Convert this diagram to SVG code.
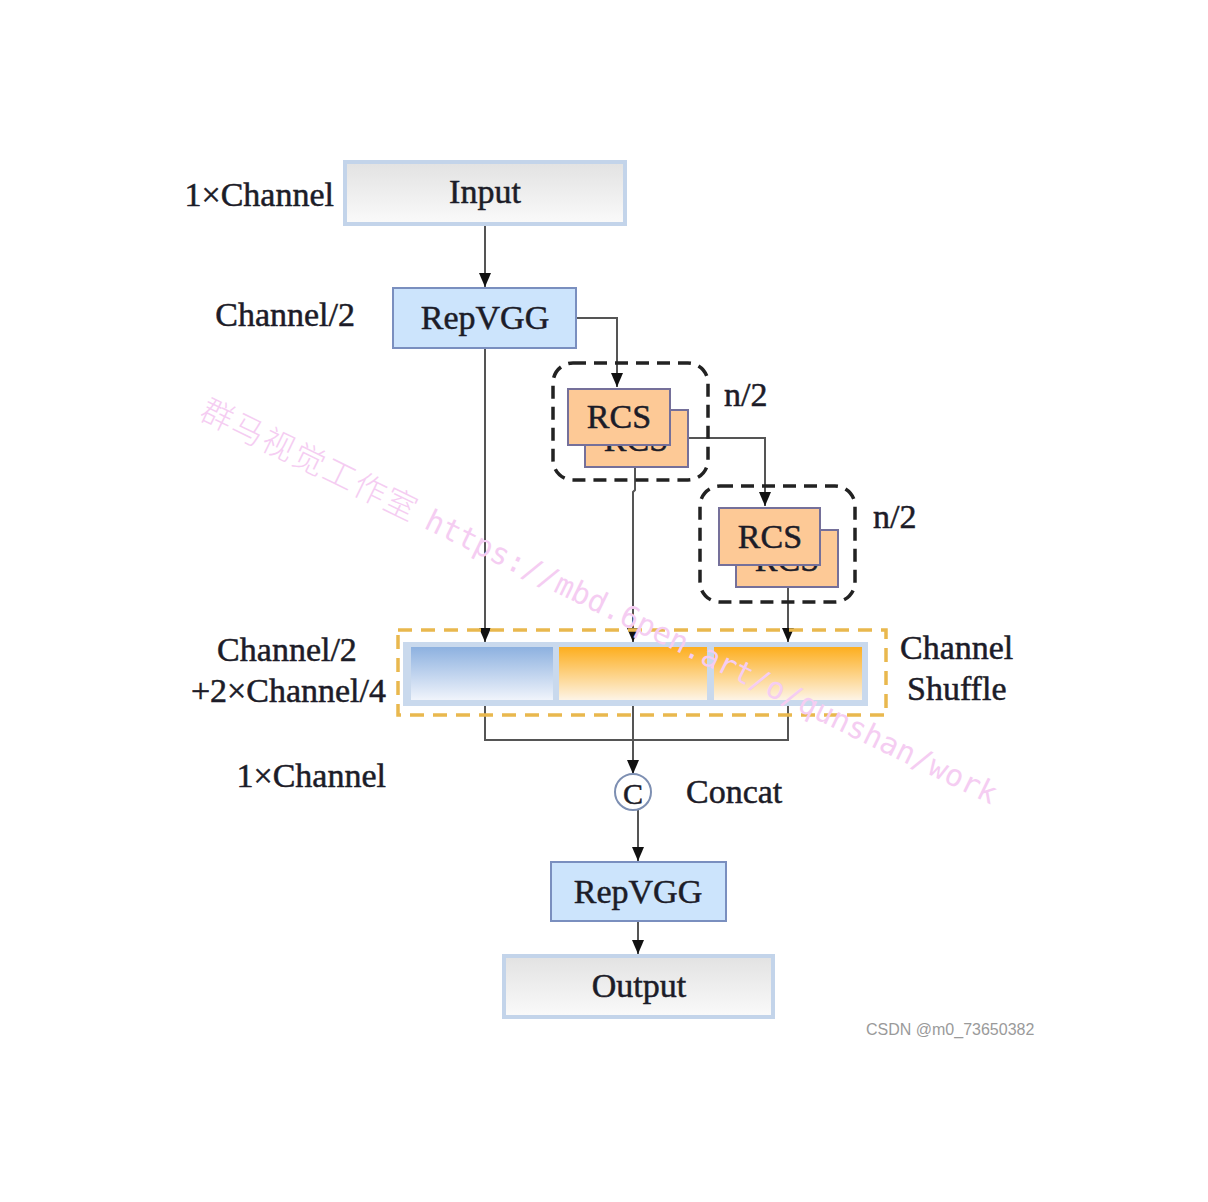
<svg xmlns="http://www.w3.org/2000/svg" width="1208" height="1202" viewBox="0 0 1208 1202">
<defs>
<linearGradient id="gGrey" x1="0" y1="0" x2="0" y2="1"><stop offset="0" stop-color="#e2e2e2"/><stop offset="1" stop-color="#fafafa"/></linearGradient>
<linearGradient id="gBlue" x1="0" y1="0" x2="0" y2="1"><stop offset="0" stop-color="#8db1e0"/><stop offset="1" stop-color="#f0f4fb"/></linearGradient>
<linearGradient id="gOrange" x1="0" y1="0" x2="0" y2="1"><stop offset="0" stop-color="#fdae1e"/><stop offset="1" stop-color="#fdf4e6"/></linearGradient>
<marker id="arr" viewBox="0 0 14 12" refX="14" refY="6" markerWidth="14" markerHeight="12" markerUnits="userSpaceOnUse" orient="auto"><path d="M0,0 L14,6 L0,12 z" fill="#111"/></marker>
</defs>
<style>
.t{font-family:"Liberation Serif","Times New Roman",serif;font-size:34px;fill:#1c1c28;stroke:#1c1c28;stroke-width:0.5}
.c{text-anchor:middle}
.r{text-anchor:end}
.io{fill:url(#gGrey);stroke:#c3d4ea;stroke-width:4}
.rep{fill:#cce4fc;stroke:#7a8fbf;stroke-width:2}
.rcs{fill:#fdc996;stroke:#75709a;stroke-width:2}
.dash{fill:none;stroke:#222;stroke-width:3.5;stroke-dasharray:13,8}
.ln{fill:none;stroke:#555;stroke-width:2}
.wm{fill:#f5cdf2}
</style>
<rect width="1208" height="1202" fill="#ffffff"/>
<g id="connectors">
<path class="ln" d="M485,225 V287" marker-end="url(#arr)"/>
<path class="ln" d="M576,318 H617 V387" marker-end="url(#arr)"/>
<path class="ln" d="M485,348 V642" marker-end="url(#arr)"/>
<path class="ln" d="M688,438 H765 V506" marker-end="url(#arr)"/>
<path class="ln" d="M635,467 V490 L633,492 V642" marker-end="url(#arr)"/>
<path class="ln" d="M788,587 V642" marker-end="url(#arr)"/>
<path class="ln" d="M485,706 V740 H788 V706"/>
<path class="ln" d="M633,706 V774" marker-end="url(#arr)"/>
<path class="ln" d="M638,810 V861" marker-end="url(#arr)"/>
<path class="ln" d="M638,921 V954" marker-end="url(#arr)"/>
</g>
<g id="input"><rect class="io" x="345" y="162" width="280" height="62"/><text class="t c" x="485" y="203">Input</text></g>
<text class="t r" x="334" y="206">1×Channel</text>
<g id="repvgg1"><rect class="rep" x="393" y="288" width="183" height="60"/><text class="t c" x="485" y="329">RepVGG</text></g>
<text class="t r" x="355" y="326">Channel/2</text>
<g id="rcs1">
<rect class="dash" x="553" y="363" width="155" height="117" rx="20"/>
<rect class="rcs" x="585" y="410" width="103" height="57"/>
<text class="t c" x="636" y="451">RCS</text>
<rect class="rcs" x="568" y="389" width="102" height="56"/>
<text class="t c" x="619" y="428">RCS</text>
</g>
<text class="t" x="724" y="406">n/2</text>
<g id="rcs2">
<rect class="dash" x="700" y="486" width="155" height="116" rx="20"/>
<rect class="rcs" x="736" y="530" width="102" height="57"/>
<text class="t c" x="787" y="571">RCS</text>
<rect class="rcs" x="719" y="508" width="101" height="57"/>
<text class="t c" x="770" y="548">RCS</text>
</g>
<text class="t" x="873" y="528">n/2</text>
<g id="shuffle">
<rect x="398" y="630" width="488" height="85" fill="none" stroke="#e9b84e" stroke-width="3.5" stroke-dasharray="14,9"/>
<rect x="403" y="642" width="465" height="64" fill="#c9d9ed"/>
<rect x="411" y="647" width="142" height="53" fill="url(#gBlue)"/>
<rect x="559" y="647" width="148" height="53" fill="url(#gOrange)"/>
<rect x="714" y="647" width="148" height="53" fill="url(#gOrange)"/>
</g>
<text class="t c" x="287" y="661">Channel/2</text>
<text class="t r" x="386" y="702">+2×Channel/4</text>
<text class="t" x="900" y="659">Channel</text>
<text class="t" x="907" y="700">Shuffle</text>
<text class="t r" x="386" y="787">1×Channel</text>
<g id="concat"><circle cx="633" cy="792" r="18" fill="#fff" stroke="#7d8fb2" stroke-width="2"/><text class="t c" x="633" y="804" style="font-size:30px">C</text></g>
<text class="t" x="686" y="803">Concat</text>
<g id="repvgg2"><rect class="rep" x="551" y="862" width="175" height="59"/><text class="t c" x="638" y="903">RepVGG</text></g>
<g id="output"><rect class="io" x="504" y="956" width="269" height="61"/><text class="t c" x="639" y="997">Output</text></g>
<text x="866" y="1035" style="font-family:'Liberation Sans',Arial,sans-serif;font-size:16px;fill:#9a9a9a">CSDN @m0_73650382</text>
<text class="wm" transform="translate(198,418) rotate(26)"><tspan style="font-family:'Noto Sans CJK SC',sans-serif;font-size:32px;font-weight:300;letter-spacing:2px">群马视觉工作室</tspan><tspan style="font-family:'DejaVu Sans Mono',monospace;font-size:30px" dx="12">https://mbd.6pen.art/o/qunshan/work</tspan></text>
</svg>
